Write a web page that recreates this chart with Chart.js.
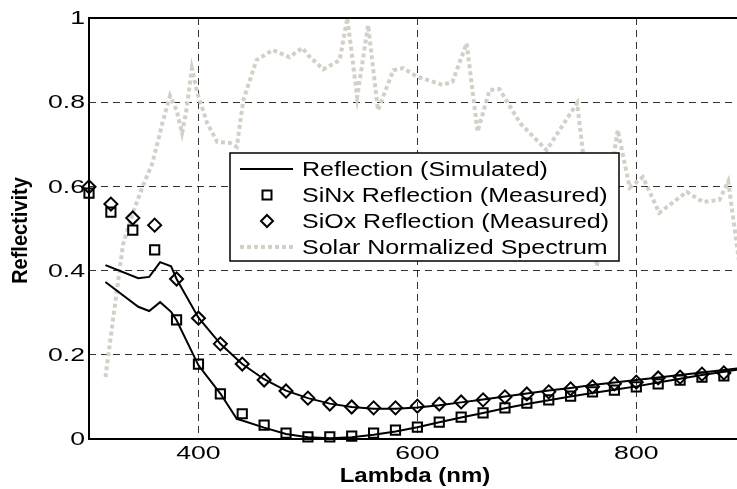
<!DOCTYPE html>
<html>
<head>
<meta charset="utf-8">
<title>Reflectivity</title>
<script src="https://cdn.jsdelivr.net/npm/chart.js@4.4.0/dist/chart.umd.min.js"></script>
<style>
    body { margin: 0; background: #fff; }
    canvas { display: block; }
</style>
</head>
<body>
<canvas id="reflectChart" width="737" height="489"></canvas>
<script>
// measured points, every 20 nm
const measLambda = [300, 320, 340, 360, 380, 400, 420, 440, 460, 480, 500, 520, 540, 560, 580,
    600, 620, 640, 660, 680, 700, 720, 740, 760, 780, 800, 820, 840, 860, 880];
const sinxMeasured = [0.584, 0.539, 0.496, 0.449, 0.283, 0.178, 0.107, 0.060, 0.033, 0.014, 0.005, 0.005, 0.007, 0.014, 0.021,
    0.028, 0.040, 0.052, 0.062, 0.074, 0.085, 0.093, 0.102, 0.112, 0.116, 0.124, 0.131, 0.140, 0.147, 0.150];
const sioxMeasured = [0.599, 0.558, 0.525, 0.508, 0.380, 0.287, 0.226, 0.178, 0.140, 0.114, 0.097, 0.083, 0.076, 0.074, 0.074,
    0.078, 0.083, 0.088, 0.093, 0.100, 0.107, 0.112, 0.119, 0.124, 0.131, 0.135, 0.145, 0.147, 0.154, 0.157];

// simulated curves
const simLambda = [315, 345, 355, 365, 375, 380, 400, 420, 435, 440, 460, 480, 500, 520, 540, 560, 580,
    600, 620, 640, 660, 680, 700, 720, 740, 760, 780, 800, 820, 840, 860, 880, 900];
const sioxSimulated = [0.413, 0.382, 0.385, 0.420, 0.410, 0.380, 0.288, 0.226, 0.190, 0.178, 0.142, 0.115, 0.097, 0.084, 0.076, 0.072, 0.072,
    0.075, 0.080, 0.087, 0.094, 0.101, 0.108, 0.115, 0.121, 0.128, 0.134, 0.140, 0.146, 0.152, 0.158, 0.164, 0.170];
const sinxSimulated = [0.373, 0.314, 0.304, 0.325, 0.302, 0.282, 0.175, 0.108, 0.048, 0.044, 0.027, 0.012, 0.004, 0.002, 0.004, 0.010, 0.018,
    0.028, 0.040, 0.051, 0.062, 0.073, 0.083, 0.092, 0.101, 0.109, 0.117, 0.125, 0.134, 0.143, 0.152, 0.160, 0.168];

// normalized solar spectrum
const solarLambda = [315, 331, 340, 349, 358, 367, 374, 380, 385, 389, 394, 399, 408, 417, 429, 435, 441, 453,
    468, 483, 495, 500, 514, 529, 536, 545, 555, 564, 578, 587, 600, 609, 623, 632, 645, 655, 666, 675,
    694, 718, 746, 751, 764, 783, 794, 806, 821, 846, 861, 876, 884, 895];
const solarSpectrum = [0.147, 0.461, 0.537, 0.600, 0.656, 0.750, 0.815, 0.781, 0.727, 0.781, 0.880, 0.822, 0.750, 0.706, 0.703, 0.694, 0.805, 0.900,
    0.924, 0.907, 0.929, 0.912, 0.878, 0.900, 1.000, 0.812, 0.983, 0.781, 0.876, 0.881, 0.860, 0.853, 0.841, 0.848, 0.940, 0.730, 0.829, 0.831,
    0.750, 0.686, 0.798, 0.686, 0.410, 0.734, 0.597, 0.622, 0.537, 0.587, 0.563, 0.568, 0.612, 0.400];

const xTicks = [400, 600, 800];
const yTicks = [0, 0.2, 0.4, 0.6, 0.8, 1];
const yTickLabels = ['0', '0.2', '0.4', '0.6', '0.8', '1'];
const legendLabels = ['Reflection (Simulated)', 'SiNx Reflection (Measured)', 'SiOx Reflection (Measured)', 'Solar Normalized Spectrum'];

const solarGrey = '#d4d0c8';
const fontFamily = '"Liberation Sans", Arial, sans-serif';

const pts = (xs, ys) => xs.map((x, i) => ({ x: x, y: ys[i] }));

// text drawn wide, like the original figure
function wideText(ctx, text, x, y, align, font, sx) {
    ctx.save();
    ctx.font = font;
    ctx.fillStyle = '#000';
    ctx.textAlign = align;
    ctx.textBaseline = 'middle';
    ctx.translate(x, y);
    ctx.scale(sx, 1);
    ctx.fillText(text, 0, 0);
    ctx.restore();
}

// axes box (left, bottom, top)
const framePlugin = {
    id: 'frame',
    beforeDatasetsDraw(chart) {
        const { ctx, chartArea: a } = chart;
        ctx.save();
        ctx.strokeStyle = '#000';
        ctx.lineWidth = 2;
        ctx.beginPath();
        ctx.moveTo(a.right, a.top);
        ctx.lineTo(a.left, a.top);
        ctx.lineTo(a.left, a.bottom);
        ctx.lineTo(a.right, a.bottom);
        ctx.stroke();
        ctx.restore();
    }
};

// legend box inside the plot
const legendPlugin = {
    id: 'boxLegend',
    afterDatasetsDraw(chart) {
        const ctx = chart.ctx;
        const box = { x: 230, y: 153, w: 389, h: 108 };
        ctx.save();
        ctx.fillStyle = '#fff';
        ctx.fillRect(box.x, box.y, box.w, box.h);
        ctx.strokeStyle = '#000';
        ctx.lineWidth = 1.5;
        ctx.strokeRect(box.x, box.y, box.w, box.h);

        const rows = [169, 195, 221, 247];
        const cx = 267;
        // simulated line
        ctx.lineWidth = 2;
        ctx.beginPath();
        ctx.moveTo(240, rows[0]);
        ctx.lineTo(293, rows[0]);
        ctx.stroke();
        // square
        ctx.strokeRect(cx - 4.5, rows[1] - 4.5, 9, 9);
        // diamond
        ctx.beginPath();
        ctx.moveTo(cx, rows[2] - 6);
        ctx.lineTo(cx + 6, rows[2]);
        ctx.lineTo(cx, rows[2] + 6);
        ctx.lineTo(cx - 6, rows[2]);
        ctx.closePath();
        ctx.stroke();
        // solar dotted
        ctx.strokeStyle = solarGrey;
        ctx.lineWidth = 4;
        ctx.setLineDash([4, 3]);
        ctx.beginPath();
        ctx.moveTo(240, rows[3]);
        ctx.lineTo(293, rows[3]);
        ctx.stroke();
        ctx.restore();

        legendLabels.forEach((label, i) => {
            wideText(ctx, label, 302, rows[i] + 1, 'left', '20px ' + fontFamily, 1.25);
        });
    }
};

// tick labels and axis titles
const labelPlugin = {
    id: 'axisText',
    afterDraw(chart) {
        const ctx = chart.ctx;
        const xs = chart.scales.x;
        const ys = chart.scales.y;
        const a = chart.chartArea;
        yTicks.forEach((v, i) => {
            wideText(ctx, yTickLabels[i], 85, ys.getPixelForValue(v) + 1, 'right', '19px ' + fontFamily, 1.4);
        });
        xTicks.forEach(v => {
            wideText(ctx, String(v), xs.getPixelForValue(v), a.bottom + 15, 'center', '19px ' + fontFamily, 1.4);
        });
        wideText(ctx, 'Lambda (nm)', 415, a.bottom + 37, 'center', 'bold 20px ' + fontFamily, 1.2);

        ctx.save();
        ctx.translate(21, (a.top + a.bottom) / 2 + 2);
        ctx.rotate(-Math.PI / 2);
        ctx.scale(1, 1.1);
        ctx.font = 'bold 20px ' + fontFamily;
        ctx.fillStyle = '#000';
        ctx.textAlign = 'center';
        ctx.textBaseline = 'middle';
        ctx.fillText('Reflectivity', 0, 0);
        ctx.restore();
    }
};

const gridOpts = { color: 'rgba(0,0,0,0.8)', lineWidth: 1, drawTicks: false };

new Chart(document.getElementById('reflectChart').getContext('2d'), {
    type: 'line',
    data: {
        datasets: [
            {
                label: 'SiNx Reflection (Measured)',
                data: pts(measLambda, sinxMeasured),
                showLine: false,
                pointStyle: 'rect',
                pointRadius: 6.5,
                pointBorderWidth: 2,
                pointBorderColor: '#000',
                pointBackgroundColor: 'rgba(0,0,0,0)',
                clip: 12
            },
            {
                label: 'SiOx Reflection (Measured)',
                data: pts(measLambda, sioxMeasured),
                showLine: false,
                pointStyle: 'rectRot',
                pointRadius: 6.5,
                pointBorderWidth: 2,
                pointBorderColor: '#000',
                pointBackgroundColor: 'rgba(0,0,0,0)',
                clip: 12
            },
            {
                label: 'Reflection (Simulated)',
                data: pts(simLambda, sioxSimulated),
                borderColor: '#000',
                borderWidth: 2,
                pointRadius: 0,
                tension: 0
            },
            {
                label: 'Reflection (Simulated) SiNx',
                data: pts(simLambda, sinxSimulated),
                borderColor: '#000',
                borderWidth: 2,
                pointRadius: 0,
                tension: 0
            },
            {
                label: 'Solar Normalized Spectrum',
                data: pts(solarLambda, solarSpectrum),
                borderColor: solarGrey,
                borderWidth: 4,
                borderDash: [4, 3],
                borderJoinStyle: 'miter',
                pointRadius: 0,
                tension: 0
            }
        ]
    },
    options: {
        responsive: false,
        animation: false,
        layout: { autoPadding: false, padding: { top: 18, right: 0, bottom: 0, left: 0 } },
        plugins: {
            legend: { display: false },
            tooltip: { enabled: false }
        },
        scales: {
            x: {
                type: 'linear',
                min: 300,
                max: 892,
                afterBuildTicks: axis => { axis.ticks = xTicks.map(v => ({ value: v })); },
                afterFit: axis => { axis.height = 50; },
                grid: gridOpts,
                border: { display: false, dash: [7, 5] },
                ticks: { display: false }
            },
            y: {
                type: 'linear',
                min: 0,
                max: 1,
                afterBuildTicks: axis => { axis.ticks = yTicks.map(v => ({ value: v })); },
                afterFit: axis => { axis.width = 89; },
                grid: gridOpts,
                border: { display: false, dash: [7, 5] },
                ticks: { display: false }
            }
        }
    },
    plugins: [framePlugin, legendPlugin, labelPlugin]
});
</script>
</body>
</html>
